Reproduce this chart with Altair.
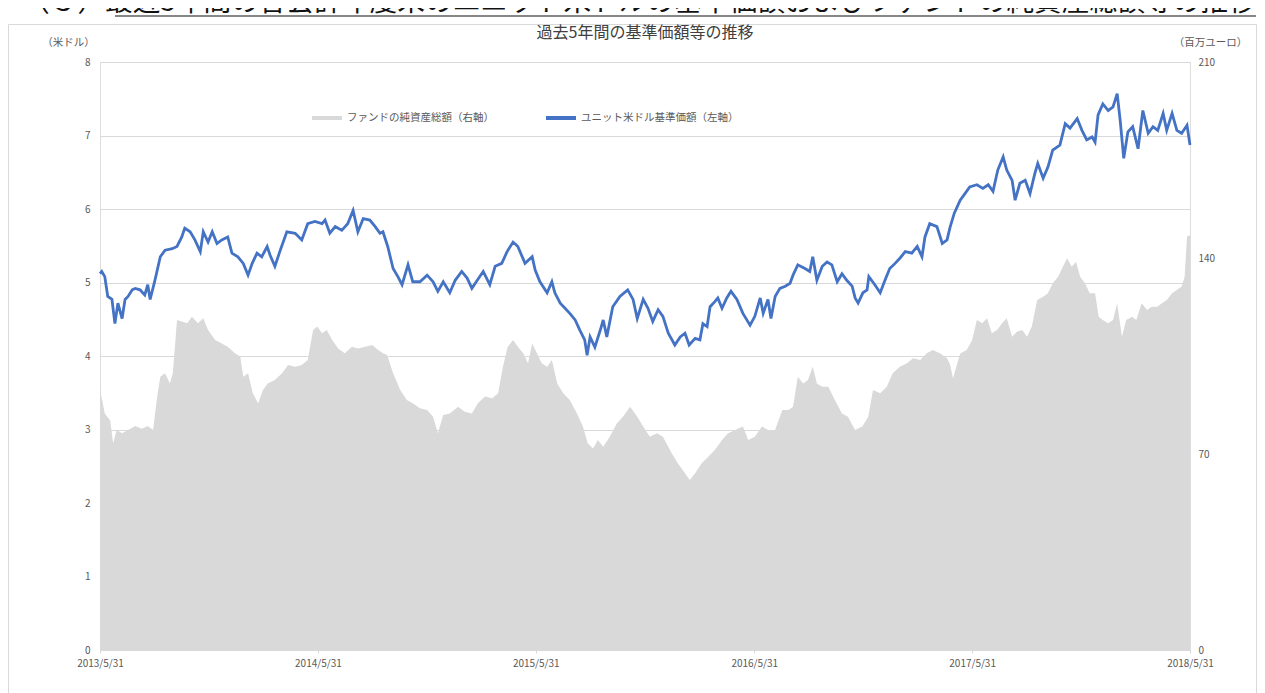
import altair as alt
import pandas as pd

FONT = "Noto Sans CJK JP"
HEADING = "（３）最近5年間の各会計年度末のユニット米ドルの基準価額およびファンドの純資産総額等の推移"
TITLE = "過去5年間の基準価額等の推移"
LEFT_TITLE = "（米ドル）"
RIGHT_TITLE = "（百万ユーロ）"
LBL_AUM = "ファンドの純資産総額（右軸）"
LBL_NAV = "ユニット米ドル基準価額（左軸）"
START = "2013-05-31"

x_tick_labels = ["2013/5/31", "2014/5/31", "2015/5/31", "2016/5/31", "2017/5/31", "2018/5/31"]
left_ticks = [0, 1, 2, 3, 4, 5, 6, 7, 8]
right_ticks = [0, 70, 140, 210]

# days after 2013/5/31 and unit USD NAV (left axis)
nav_days = [0,3,8,13,20,25,30,37,42,47,54,59,67,75,80,84,92,101,109,121,129,137,142,151,159,168,173,181,188,196,
            204,214,221,231,240,248,255,263,271,280,285,293,302,313,327,338,348,360,372,377,385,394,405,415,424,432,441,452,461,469,
            474,482,491,499,506,516,524,536,548,558,566,575,586,595,606,615,623,632,642,653,662,673,682,692,700,712,724,729,737,749,
            757,762,771,779,787,796,804,812,816,821,829,838,843,849,859,871,884,893,900,910,918,926,935,943,952,963,972,980,987,997,
            1005,1010,1017,1022,1030,1035,1042,1050,1057,1067,1077,1089,1097,1106,1111,1119,1124,1131,1139,1148,
            1156,1161,1169,1181,1189,1194,1201,1210,1218,1226,1235,1243,1251,1260,1265,1270,1278,1285,1288,1298,
            1307,1315,1323,1332,1340,1349,1360,1369,1377,1382,1390,1402,1411,1419,1424,1431,1441,1449,1457,1469,
            1479,1488,1496,1504,1513,1519,1528,1533,1541,1550,1558,1566,1571,1580,1588,1596,1608,1617,1625,1637,
            1645,1653,1662,1667,1672,1680,1689,1697,1704,1709,1715,1722,1730,1739,1747,1756,1764,1772,1781,1787,
            1796,1804,1812,1821,1826]
nav_usd = [5.12,5.15,5.08,4.81,4.77,4.44,4.72,4.51,4.77,4.81,4.90,4.92,4.90,4.83,4.97,4.77,5.03,5.35,5.44,5.46,
           5.49,5.62,5.74,5.69,5.58,5.42,5.69,5.55,5.69,5.53,5.58,5.62,5.40,5.35,5.26,5.10,5.26,5.40,5.35,5.49,
           5.37,5.22,5.44,5.69,5.67,5.58,5.80,5.83,5.80,5.85,5.67,5.76,5.71,5.80,5.98,5.69,5.87,5.85,5.76,5.67,
           5.69,5.49,5.19,5.08,4.97,5.24,5.01,5.01,5.10,5.01,4.88,5.01,4.86,5.03,5.15,5.06,4.92,5.03,5.15,4.97,
           5.22,5.26,5.42,5.55,5.49,5.26,5.35,5.17,5.01,4.86,5.01,4.86,4.72,4.65,4.58,4.49,4.35,4.22,4.01,4.26,
           4.12,4.35,4.49,4.26,4.67,4.81,4.90,4.77,4.51,4.77,4.65,4.47,4.63,4.54,4.31,4.15,4.26,4.31,4.15,4.24,
           4.22,4.44,4.40,4.67,4.74,4.79,4.65,4.79,4.88,4.77,4.58,4.42,4.54,4.79,4.58,4.77,4.51,4.81,4.92,4.95,
           4.99,5.10,5.24,5.19,5.15,5.35,5.03,5.22,5.28,5.24,5.01,5.12,5.03,4.95,4.79,4.72,4.86,4.90,5.08,4.97,
           4.86,5.03,5.19,5.26,5.33,5.42,5.40,5.49,5.35,5.62,5.80,5.76,5.53,5.58,5.75,5.94,6.12,6.21,6.30,6.33,
           6.28,6.33,6.24,6.53,6.71,6.53,6.39,6.12,6.35,6.39,6.21,6.48,6.62,6.42,6.57,6.80,6.87,7.16,7.10,7.23,
           7.07,6.94,6.98,6.91,7.28,7.43,7.34,7.39,7.57,7.21,6.69,7.05,7.12,6.82,7.34,7.03,7.12,7.07,7.30,7.07,
           7.30,7.07,7.03,7.14,6.87]

# days after 2013/5/31 and fund net assets in million EUR (right axis)
aum_days = [0,8,17,22,28,37,47,59,70,80,89,95,101,109,117,122,129,137,146,154,
            164,173,181,193,204,214,226,235,240,248,256,265,273,281,293,305,315,327,338,348,
            357,364,372,380,389,399,410,422,432,444,456,466,474,481,491,503,514,524,536,548,
            558,566,575,586,600,611,623,633,645,657,667,675,683,692,700,709,717,724,732,740,
            749,757,766,776,787,799,809,817,826,834,843,854,866,876,888,900,910,921,933,943,
            952,958,968,980,988,997,1008,1019,1030,1042,1052,1064,1077,1086,1097,1109,1119,1131,1143,1153,
            1161,1169,1178,1186,1194,1201,1210,1220,1231,1243,1253,1265,1277,1287,1295,1307,1318,1328,1340,1352,
            1362,1374,1385,1395,1407,1419,1424,1429,1432,1441,1452,1461,1469,1478,1486,1494,1503,1511,1519,1528,
            1536,1545,1553,1561,1570,1580,1588,1596,1605,1613,1620,1628,1635,1642,1650,1658,1667,1673,1680,1689,
            1697,1704,1712,1719,1729,1736,1745,1754,1762,1771,1779,1787,1796,1804,1812,1817,1821,1826]
aum_meur = [93,84.5,82,73.8,78.6,77.4,78.6,80,79,80,78.6,89.3,97.6,98.8,95.2,98.8,117.9,117.3,116.7,119,
            116.7,118.5,114.3,110.7,109.5,108.3,106,104.8,97.6,98.8,91.7,88.1,92.9,95.2,96.4,98.8,101.8,101.2,101.8,103.6,
            114.3,115.5,113.1,114.3,110.7,107.7,106,108.3,107.7,108.3,108.9,107.1,106,105.4,98.8,92.9,89.3,88.1,86.3,85.7,
            83.3,77.4,83.9,84.5,86.9,85.1,84.5,88.1,90.5,89.9,91.7,101.2,108.3,110.7,108.3,106,102.4,109.5,106,102.4,
            101.2,103.6,95.2,91.7,89.3,84.5,79.8,73.8,72,75,72.6,76.2,81,83.3,86.9,83.3,79.8,76.2,77.4,76.2,
            72.6,70.2,66.7,63.1,60.7,63.1,66.7,69,71.4,75,77.4,78.6,79.8,75,76.2,79.8,78.6,78.6,85.7,85.7,
            86.9,97.6,95.2,96.4,101.2,95.2,94,94,89.3,84.5,83.3,78.6,79.8,83.3,92.9,91.7,94,98.8,101.2,102.4,
            104.2,103.6,106,107.1,106,104.2,102,97,99.4,105.9,107.1,110.7,117.9,116.7,118.5,113.1,114.3,116.7,118.5,111.9,
            113.7,114.3,111.9,115.5,125,126.2,127.4,131,133.3,136.9,139.9,136.9,138.7,133.3,131,127.4,127.4,119,117.9,116.7,
            117.9,123.8,111.9,117.9,119,117.9,123.8,121.4,122.6,122.6,123.8,125,127.4,128.6,129.8,133.3,147.6,148.2]

start = pd.Timestamp(START)
nav_df = pd.DataFrame({"date": start + pd.to_timedelta(nav_days, unit="D"),
                       "value": nav_usd, "series": LBL_NAV})
aum_df = pd.DataFrame({"date": start + pd.to_timedelta(aum_days, unit="D"),
                       "value": aum_meur, "series": LBL_AUM})

def dt(s):
    y, m, d = [int(p) for p in s.split("/")]
    return alt.DateTime(year=y, month=m, date=d)

x_vals = [dt(s) for s in x_tick_labels]
x_enc = alt.X("date:T",
              scale=alt.Scale(domain=[x_vals[0], x_vals[-1]]),
              axis=alt.Axis(values=x_vals, format="%Y/%-m/%d", title=None, grid=False,
                            labelFlush=False, labelOverlap=False, domain=False,
                            ticks=True, tickSize=3, tickColor="#d9d9d9",
                            labelFont=FONT, labelFontSize=10, labelColor="#595959", labelPadding=5))

area = alt.Chart(aum_df).mark_area(color="#d9d9d9", interpolate="linear").encode(
    x=x_enc,
    y=alt.Y("value:Q", scale=alt.Scale(domain=[0, 210]),
            axis=alt.Axis(orient="right", values=right_ticks, grid=False, domain=False, ticks=False,
                          title=RIGHT_TITLE, titleAngle=0, titleX=20, titleY=-20,
                          titleAlign="center", titleBaseline="middle",
                          titleFont=FONT, titleFontSize=10.5, titleFontWeight="normal", titleColor="#595959",
                          labelFont=FONT, labelFontSize=10, labelColor="#595959", labelPadding=8)),
)

line = alt.Chart(nav_df).mark_line(strokeWidth=2.8, interpolate="linear").encode(
    x=x_enc,
    y=alt.Y("value:Q", scale=alt.Scale(domain=[0, 8]),
            axis=alt.Axis(orient="left", values=left_ticks, grid=True, gridColor="#d9d9d9",
                          domain=False, ticks=False,
                          title=LEFT_TITLE, titleAngle=0, titleX=-32, titleY=-20,
                          titleAlign="center", titleBaseline="middle",
                          titleFont=FONT, titleFontSize=10.5, titleFontWeight="normal", titleColor="#595959",
                          labelFont=FONT, labelFontSize=10, labelColor="#595959", labelPadding=10)),
    color=alt.Color("series:N",
                    scale=alt.Scale(domain=[LBL_AUM, LBL_NAV], range=["#d9d9d9", "#4472c4"]),
                    legend=alt.Legend(orient="none", legendX=210, legendY=39, direction="horizontal",
                                      title=None, symbolType="stroke", symbolSize=900,
                                      symbolStrokeWidth=4, labelFont=FONT, labelFontSize=10.5,
                                      labelColor="#595959", columnPadding=44, labelLimit=400,
                                      labelOffset=3)),
)

frame = alt.Chart(pd.DataFrame({"k": [0]})).mark_rect(fill=None, stroke="#d9d9d9", strokeWidth=1).encode(
    x=alt.value(-91.5), x2=alt.value(1156.5), y=alt.value(-37.5), y2=alt.value(660)
)

title = alt.Chart(pd.DataFrame({"t": [TITLE]})).mark_text(
    font=FONT, fontSize=16, color="#404040", align="center", baseline="middle"
).encode(text="t:N", x=alt.value(545), y=alt.value(-29))

# page heading above the chart, cut off at the top edge as in the reference
heading = alt.Chart(pd.DataFrame({"t": [HEADING]})).mark_text(
    font=FONT, fontSize=27.7, color="#111111", align="left", baseline="alphabetic"
).encode(text="t:N", x=alt.value(-78), y=alt.value(-51))

underline = alt.Chart(pd.DataFrame({"k": [0]})).mark_rule(color="#111111", strokeWidth=1.2).encode(
    x=alt.value(15), x2=alt.value(1156), y=alt.value(-46)
)

chart = alt.layer(area, line, frame, title, heading, underline).resolve_scale(y="independent").properties(
    width=1090, height=588,
    autosize=alt.AutoSizeParams(type="none"),
    padding={"left": 92, "top": 54, "right": 67, "bottom": 43},
).configure_view(stroke="#d9d9d9", strokeWidth=1).configure(background="white")

chart.save("out.html", embed_options={"renderer": "svg", "actions": False})
